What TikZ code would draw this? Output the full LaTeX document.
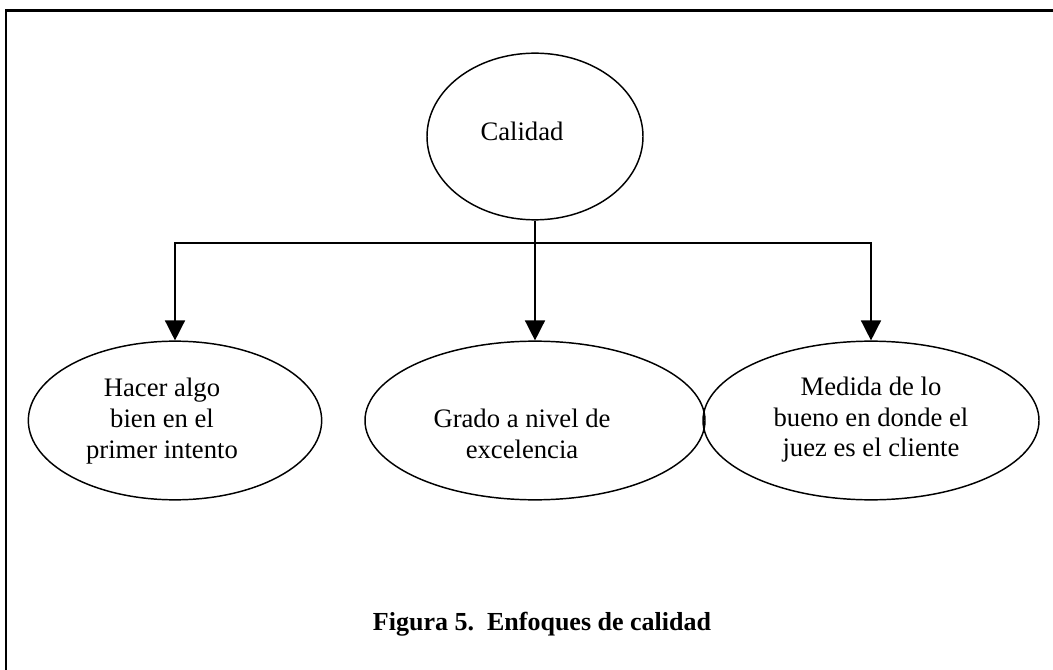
\documentclass[tikz,border=0pt]{standalone}
\usepackage{fontspec}
\setmainfont{Liberation Serif}
\usetikzlibrary{arrows.meta,shapes.geometric}
\begin{document}
\begin{tikzpicture}[x=0.75pt,y=-0.75pt,
  oval/.style={draw=black,line width=1.1pt,ellipse,inner sep=0pt},
  txt/.style={align=center,inner sep=0pt,font=\fontsize{20}{23}\selectfont},
  conn/.style={draw=black,line width=1.1pt},
  arr/.style={conn,-{Triangle[width=15pt,length=15pt]}},
  frame/.style={draw=black,line width=1.6pt}]
\useasboundingbox (0,0) rectangle (1053,670);
\draw[frame] (6,680) -- (6,10.5) -- (1060,10.5);
\node[oval,minimum width=162pt,minimum height=125pt] (top) at (535,136.5) {};
\node[oval,minimum width=220pt,minimum height=119pt] (left) at (175,420.5) {};
\node[oval,minimum width=255pt,minimum height=119pt] (mid) at (535,420.5) {};
\node[oval,minimum width=252pt,minimum height=119pt] (right) at (871,420.5) {};
\node[txt,anchor=base] (ttop) at (522,141) {Calidad};
\node[txt] (tleft) at (162,421.3) {\strut Hacer algo\\\strut bien en el\\\strut primer intento};
\node[txt] (tmid) at (522,437) {\strut Grado a nivel de\\\strut excelencia};
\node[txt] (tright) at (871,420) {\strut Medida de lo\\\strut bueno en donde el\\\strut juez es el cliente};
\coordinate (j) at (535,243);
\draw[conn] (top.south) -- (j);
\draw[arr] (j) -| (left.north);
\draw[arr] (j) -- (mid.north);
\draw[arr] (j) -| (right.north);
\node[anchor=base,inner sep=0pt,font=\fontsize{19.5}{23}\selectfont\bfseries] (cap) at (542,630) {Figura 5.\ \ Enfoques de calidad};
\end{tikzpicture}
\end{document}
